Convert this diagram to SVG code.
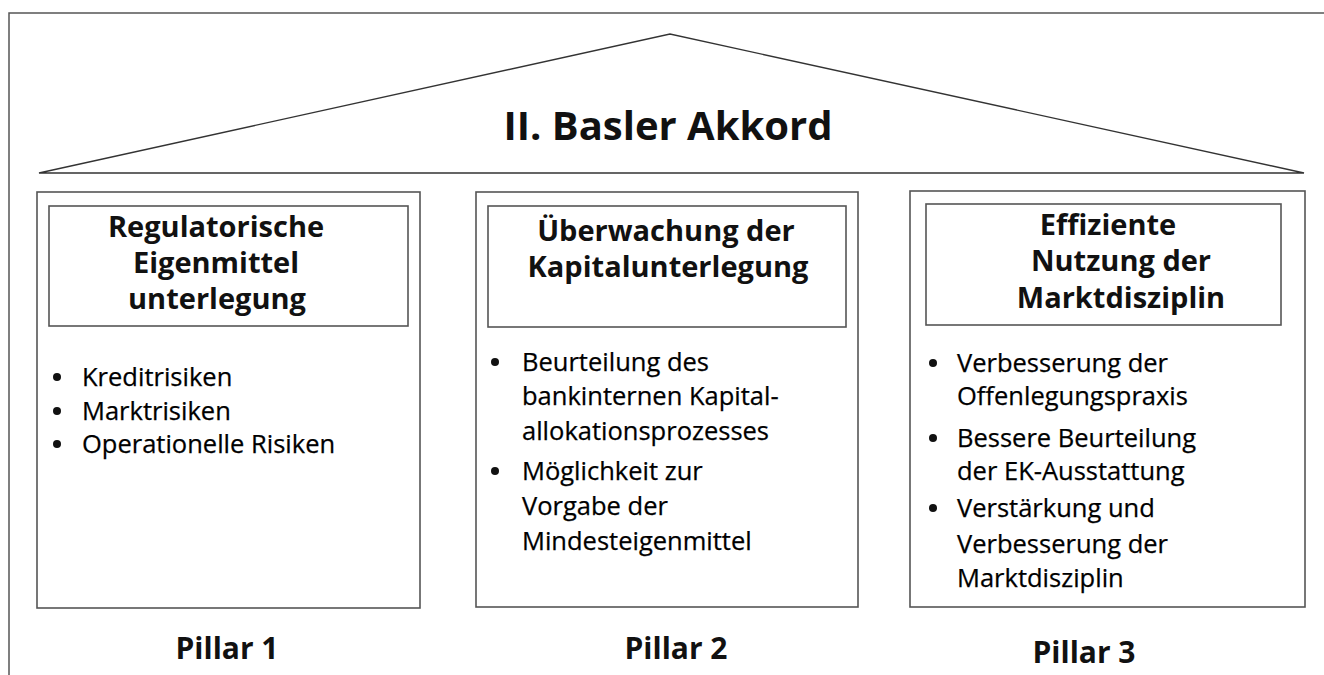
<svg xmlns="http://www.w3.org/2000/svg" width="1324" height="675" viewBox="0 0 1324 675">
<style>
.frame{fill:none;stroke:#555;stroke-width:1.5}
.roof{fill:none;stroke:#333;stroke-width:1.4}
.box{fill:#fff;stroke:#555;stroke-width:1.6}
.hbox{fill:#fff;stroke:#555;stroke-width:1.6}
.title{font-family:"Open Sans","Noto Sans",sans-serif;font-weight:bold;font-size:40px;fill:#111;text-anchor:middle}
.head{font-family:"Open Sans","Noto Sans",sans-serif;font-weight:bold;font-size:29px;fill:#111;text-anchor:middle}
.body{font-family:"Open Sans","Noto Sans",sans-serif;font-size:25.5px;fill:#000;stroke:#000;stroke-width:0.25}
.pillar{font-family:"Open Sans","Noto Sans",sans-serif;font-weight:bold;font-size:30px;fill:#111;text-anchor:middle}
.dot{fill:#111}
</style>
<rect width="1324" height="675" fill="#fff"/>
<g id="frame">
<path class="frame" d="M9,675 L9,13 L1324,13"/>
</g>
<g id="roof">
<path class="roof" d="M39,173 L670,34 L1304,173 Z"/>
<text class="title" x="668" y="140">II. Basler Akkord</text>
</g>
<g id="pillar1">
<rect class="box" x="37" y="192" width="383" height="416"/>
<rect class="hbox" x="49" y="206" width="359" height="120"/>
<text class="head" x="216" y="237">Regulatorische</text>
<text class="head" x="216" y="273">Eigenmittel</text>
<text class="head" x="217" y="309">unterlegung</text>
<circle class="dot" cx="57" cy="377" r="4"/>
<circle class="dot" cx="57" cy="411" r="4"/>
<circle class="dot" cx="57" cy="444" r="4"/>
<text class="body" x="82" y="386">Kreditrisiken</text>
<text class="body" x="82" y="420">Marktrisiken</text>
<text class="body" x="82" y="453">Operationelle Risiken</text>
<text class="pillar" x="227" y="659">Pillar 1</text>
</g>
<g id="pillar2">
<rect class="box" x="476" y="192" width="382" height="415"/>
<rect class="hbox" x="488" y="206" width="358" height="121"/>
<text class="head" x="666" y="241">Überwachung der</text>
<text class="head" x="668" y="277">Kapitalunterlegung</text>
<circle class="dot" cx="495" cy="362" r="4"/>
<circle class="dot" cx="495" cy="471" r="4"/>
<text class="body" x="522" y="371">Beurteilung des</text>
<text class="body" x="522" y="405">bankinternen Kapital-</text>
<text class="body" x="522" y="440">allokationsprozesses</text>
<text class="body" x="522" y="480">Möglichkeit zur</text>
<text class="body" x="522" y="515">Vorgabe der</text>
<text class="body" x="522" y="550">Mindesteigenmittel</text>
<text class="pillar" x="676" y="659">Pillar 2</text>
</g>
<g id="pillar3">
<rect class="box" x="910" y="191" width="395" height="416"/>
<rect class="hbox" x="926" y="204" width="355" height="121"/>
<text class="head" x="1108" y="235">Effiziente</text>
<text class="head" x="1121" y="271">Nutzung der</text>
<text class="head" x="1121" y="308">Marktdisziplin</text>
<circle class="dot" cx="933" cy="363" r="4"/>
<circle class="dot" cx="933" cy="438" r="4"/>
<circle class="dot" cx="933" cy="508" r="4"/>
<text class="body" x="957" y="372">Verbesserung der</text>
<text class="body" x="957" y="405">Offenlegungspraxis</text>
<text class="body" x="957" y="447">Bessere Beurteilung</text>
<text class="body" x="957" y="480">der EK-Ausstattung</text>
<text class="body" x="957" y="517">Verstärkung und</text>
<text class="body" x="957" y="553">Verbesserung der</text>
<text class="body" x="957" y="587">Marktdisziplin</text>
<text class="pillar" x="1084" y="663">Pillar 3</text>
</g>
<g id="connectors"></g>
</svg>
